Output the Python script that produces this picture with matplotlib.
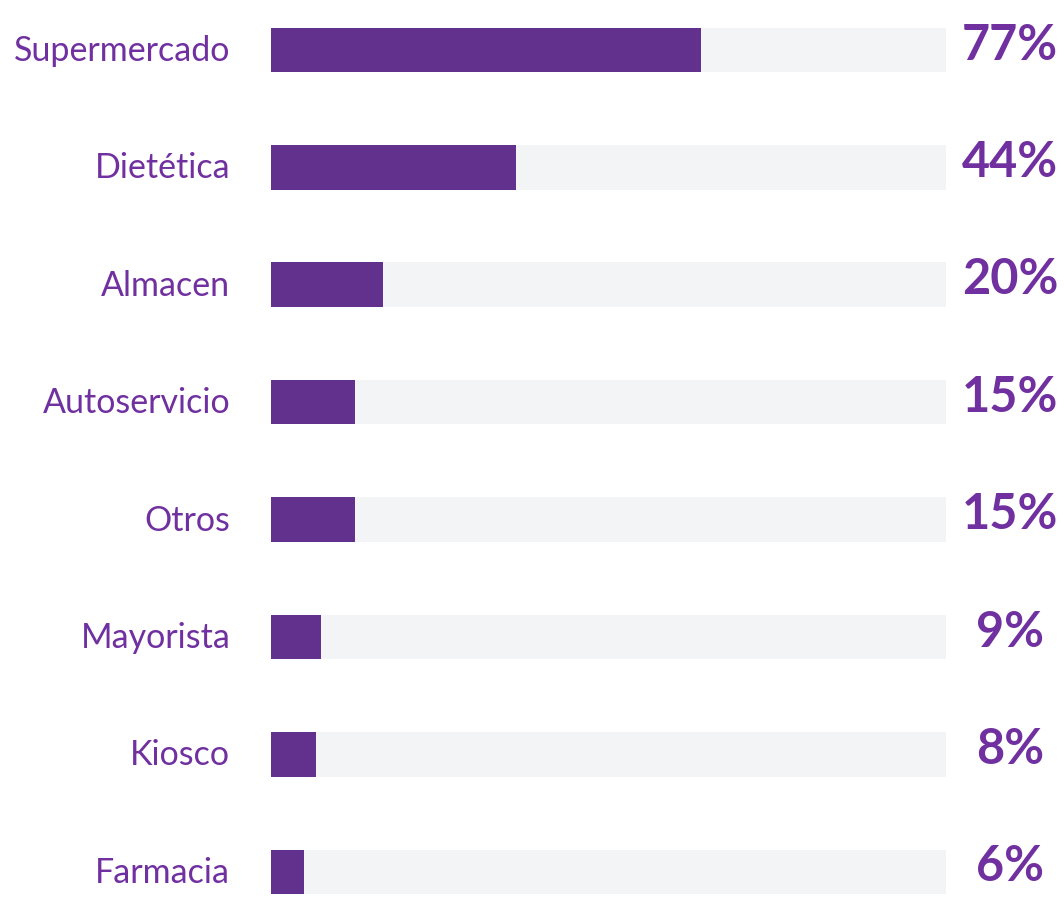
import numpy as np
import matplotlib.pyplot as plt

# Canales de compra (% de menciones)
canales = ["Supermercado", "Dietética", "Almacen", "Autoservicio",
           "Otros", "Mayorista", "Kiosco", "Farmacia"]
porcentajes = [77, 44, 20, 15, 15, 9, 8, 6]
escala_max = 121  # largo de la pista gris

violeta_barra = "#62318d"
violeta_texto = "#7030a0"
gris_pista = "#f3f4f6"

fig = plt.figure(figsize=(10.64, 9.03), dpi=100)
ax = fig.add_axes([271 / 1064, 0, 675 / 1064, 1])

y = np.arange(len(canales))
alto = 0.38

# pista de fondo y barra de valor
ax.barh(y, [escala_max] * len(canales), height=alto, color=gris_pista, zorder=1)
ax.barh(y, porcentajes, height=alto, color=violeta_barra, zorder=2)

ax.set_xlim(0, escala_max)
ax.set_ylim(7.257, -0.434)
ax.axis("off")

for yi, nombre, val in zip(y, canales, porcentajes):
    ax.text(-7.3, yi, nombre, ha="right", va="center", fontsize=24.5,
            color=violeta_texto, family="Lato")
    ax.text(132.5, yi - 0.05, f"{val}%", ha="center", va="center", fontsize=35,
            fontweight="bold", color=violeta_texto, family="Lato",
            clip_on=False)

fig.savefig("out.png", dpi=100)
